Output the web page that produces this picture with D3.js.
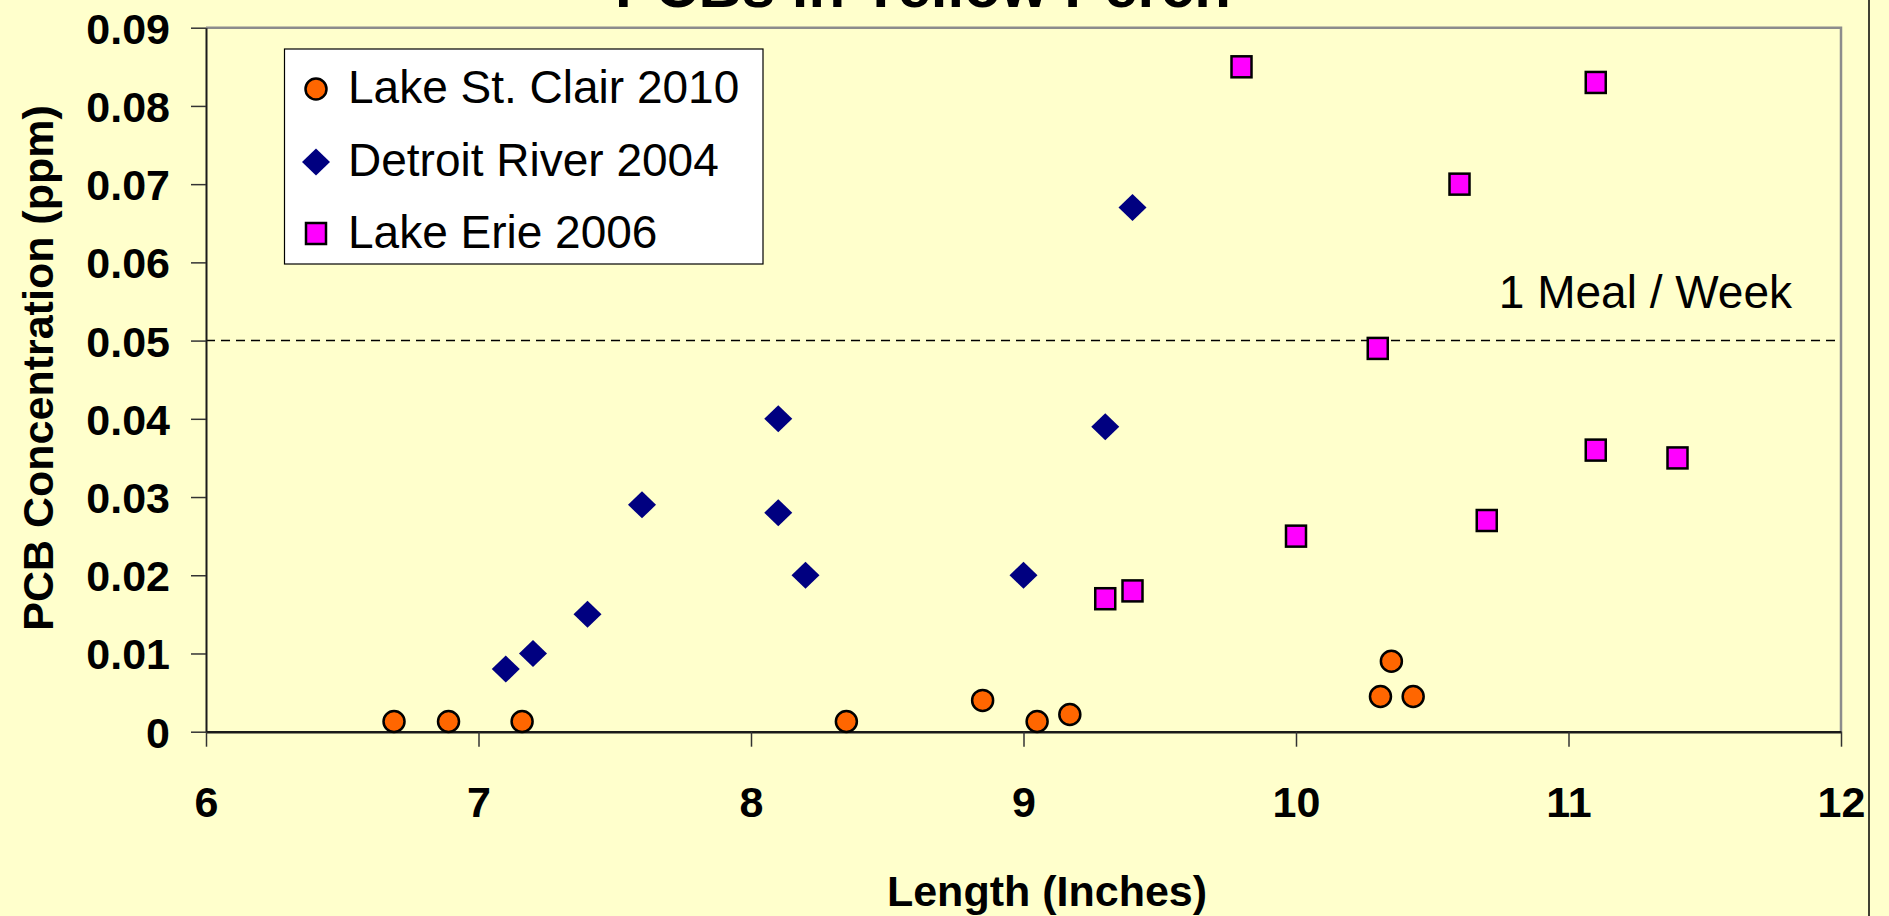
<!DOCTYPE html>
<html>
<head>
<meta charset="utf-8">
<script src="https://cdn.jsdelivr.net/npm/d3@7"></script>
<style>
  html, body { margin: 0; padding: 0; background: #FFFFCC; overflow: hidden; }
  svg { display: block; }
  text { font-family: "Liberation Sans", Arial, sans-serif; }
</style>
</head>
<body>
<svg id="chart" width="1889" height="916"></svg>
<script>
// ---- Data ----
const titleText = "PCBs in Yellow Perch";
const xTitle = "Length (Inches)";
const yTitle = "PCB Concentration (ppm)";
const seriesNames = ["Lake St. Clair 2010", "Detroit River 2004", "Lake Erie 2006"];

const stClairX = [6.69, 6.89, 7.16, 8.35, 8.85, 9.05, 9.17, 10.31, 10.35, 10.43];
const stClairY = [0.0013, 0.0013, 0.0013, 0.0013, 0.004, 0.0013, 0.0022, 0.0045, 0.009, 0.0045];

const detroitX = [7.1, 7.2, 7.4, 7.6, 8.1, 8.1, 8.2, 9.0, 9.3, 9.4];
const detroitY = [0.008, 0.010, 0.015, 0.029, 0.040, 0.028, 0.020, 0.020, 0.039, 0.067];

const erieX = [9.3, 9.4, 9.8, 10.0, 10.3, 10.6, 10.7, 11.1, 11.1, 11.4];
const erieY = [0.017, 0.018, 0.085, 0.025, 0.049, 0.070, 0.027, 0.083, 0.036, 0.035];

const xTickValues = [6, 7, 8, 9, 10, 11, 12];
const yTickValues = [0, 0.01, 0.02, 0.03, 0.04, 0.05, 0.06, 0.07, 0.08, 0.09];
const yTickLabels = ["0", "0.01", "0.02", "0.03", "0.04", "0.05", "0.06", "0.07", "0.08", "0.09"];

const guideValue = 0.05;
const guideLabel = "1 Meal / Week";

// ---- Layout ----
const svg = d3.select("#chart");
const W = 1889, H = 916;
const plot = { left: 206, right: 1841, top: 27.7, bottom: 731.7 };

const x = d3.scaleLinear().domain([6, 12]).range([plot.left, plot.right]);
const y = d3.scaleLinear().domain([0, 0.09]).range([plot.bottom, plot.top]);

const colors = { stClair: "#FF6600", detroit: "#000080", erie: "#FF00FF", bg: "#FFFFCC" };

svg.append("rect").attr("x", 0).attr("y", 0).attr("width", W).attr("height", H).attr("fill", colors.bg);

// plot border (top/right gray)
svg.append("path")
  .attr("d", `M${plot.left},${plot.top}H${plot.right}V${plot.bottom}`)
  .attr("fill", "none").attr("stroke", "#8C8C8C").attr("stroke-width", 2.5);

// right frame line
svg.append("line").attr("x1", 1869).attr("x2", 1869).attr("y1", 0).attr("y2", H)
  .attr("stroke", "#000").attr("stroke-width", 1.5);

// Title (cut off at top, as in the reference)
svg.append("text").attr("x", 923).attr("y", 7).attr("text-anchor", "middle")
  .attr("font-size", 60).attr("font-weight", "bold").attr("fill", "#000").text(titleText);

// guide line
svg.append("line")
  .attr("x1", x(6)).attr("x2", x(12)).attr("y1", y(guideValue)).attr("y2", y(guideValue))
  .attr("stroke", "#000").attr("stroke-width", 1.5).attr("stroke-dasharray", "9,6");

svg.append("text").attr("x", 1792).attr("y", 308).attr("text-anchor", "end")
  .attr("font-size", 46).attr("fill", "#000").text(guideLabel);

// Axes
const yAxis = d3.axisLeft(y).tickValues(yTickValues)
  .tickFormat((d, i) => yTickLabels[i]).tickSizeInner(15).tickSizeOuter(0).tickPadding(21);
const gy = svg.append("g").attr("transform", `translate(${plot.left},0)`).call(yAxis);
gy.select(".domain").attr("stroke", "#1a1a1a").attr("stroke-width", 2);
gy.selectAll(".tick line").attr("stroke", "#333").attr("stroke-width", 1.5);
gy.selectAll(".tick text").attr("font-size", 43).attr("font-weight", "bold")
  .attr("fill", "#000").attr("dy", "0.36em")
  .style("font-family", '"Liberation Sans", Arial, sans-serif');

const xAxis = d3.axisBottom(x).tickValues(xTickValues)
  .tickFormat(d3.format("d")).tickSizeInner(15).tickSizeOuter(0).tickPadding(40);
const gx = svg.append("g").attr("transform", `translate(0,${plot.bottom})`).call(xAxis);
gx.select(".domain").attr("stroke", "#1a1a1a").attr("stroke-width", 2.5);
gx.selectAll(".tick line").attr("stroke", "#333").attr("stroke-width", 1.5);
gx.selectAll(".tick text").attr("font-size", 43).attr("font-weight", "bold")
  .attr("fill", "#000")
  .style("font-family", '"Liberation Sans", Arial, sans-serif');

// Axis titles
svg.append("text").attr("x", 1047).attr("y", 906).attr("text-anchor", "middle")
  .attr("font-size", 43).attr("font-weight", "bold").attr("fill", "#000").text(xTitle);

svg.append("text").attr("transform", "translate(53,368) rotate(-90)").attr("text-anchor", "middle")
  .attr("font-size", 43).attr("font-weight", "bold").attr("fill", "#000").text(yTitle);

// Marker shapes
function drawCircle(g, cx, cy) {
  g.append("circle").attr("cx", cx).attr("cy", cy).attr("r", 10.5)
    .attr("fill", colors.stClair).attr("stroke", "#000").attr("stroke-width", 2.5);
}
function drawDiamond(g, cx, cy) {
  g.append("path")
    .attr("d", `M${cx},${cy - 13.5}L${cx + 14},${cy}L${cx},${cy + 13.5}L${cx - 14},${cy}Z`)
    .attr("fill", colors.detroit);
}
function drawSquare(g, cx, cy) {
  g.append("rect").attr("x", cx - 10).attr("y", cy - 10.5).attr("width", 20).attr("height", 21)
    .attr("fill", colors.erie).attr("stroke", "#000").attr("stroke-width", 2.5);
}

const gPts = svg.append("g");
stClairX.forEach((v, i) => drawCircle(gPts, x(v), y(stClairY[i])));
detroitX.forEach((v, i) => drawDiamond(gPts, x(v), y(detroitY[i])));
erieX.forEach((v, i) => drawSquare(gPts, x(v), y(erieY[i])));

// Legend
const lg = svg.append("g");
lg.append("rect").attr("x", 284.5).attr("y", 49).attr("width", 478.5).attr("height", 215)
  .attr("fill", "#FFFFFF").attr("stroke", "#000").attr("stroke-width", 1.2);
const legendBaselines = [103, 176, 247.5];
const drawers = [drawCircle, drawDiamond, drawSquare];
seriesNames.forEach((name, i) => {
  drawers[i](lg, 316, legendBaselines[i] - 14);
  lg.append("text").attr("x", 348).attr("y", legendBaselines[i])
    .attr("font-size", 46).attr("fill", "#000").text(name);
});
</script>
</body>
</html>
